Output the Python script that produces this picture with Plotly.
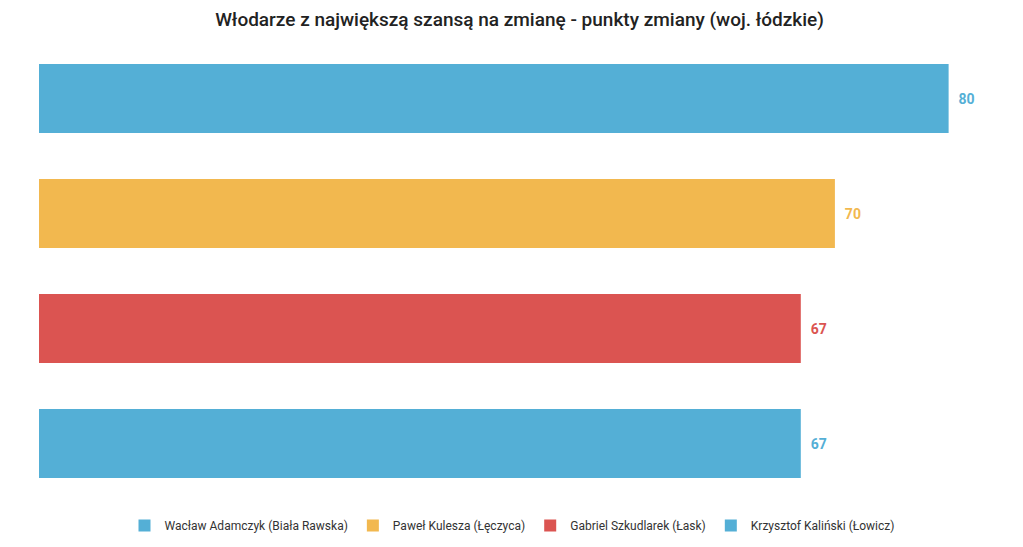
import plotly.graph_objects as go

# Data
names = [
    'Wacław Adamczyk (Biała Rawska)',
    'Paweł Kulesza (Łęczyca)',
    'Gabriel Szkudlarek (Łask)',
    'Krzysztof Kaliński (Łowicz)',
]
points = [80, 70, 67, 67]
colors = ['#54afd6', '#f2b84f', '#db5451', '#54afd6']

fig = go.Figure()

# One trace per person so each gets its own legend entry
for name, val, col in zip(names, points, colors):
    fig.add_trace(go.Bar(
        y=[name], x=[val], name=name, orientation='h',
        marker=dict(color=col, line=dict(width=0)),
        text=[val], texttemplate='  %{x}', textposition='outside',
        textfont=dict(color=col, size=14, family='Roboto', weight='bold'),
        cliponaxis=False,
    ))

fig.update_layout(
    title=dict(text='Włodarze z największą szansą na zmianę - punkty zmiany (woj. łódzkie)',
               x=0.5, xanchor='center', y=0.98, yanchor='middle',
               font=dict(size=19, family='Roboto', color='#222', weight=500)),
    width=1023, height=547,
    margin=dict(l=31, r=46, t=33, b=54),
    plot_bgcolor='white', paper_bgcolor='white',
    barmode='overlay', bargap=0.4,
    showlegend=True,
    legend=dict(orientation='h', x=0.5, xanchor='center', y=-0.053, yanchor='middle',
                font=dict(size=12, family='Roboto', color='#333'), traceorder='normal',
                itemwidth=30),
    font=dict(family='Roboto'),
)
fig.update_xaxes(range=[0, 83.2], visible=False)
fig.update_yaxes(categoryorder='array', categoryarray=names, autorange='reversed',
                 visible=False)

fig.write_html('out.html')
